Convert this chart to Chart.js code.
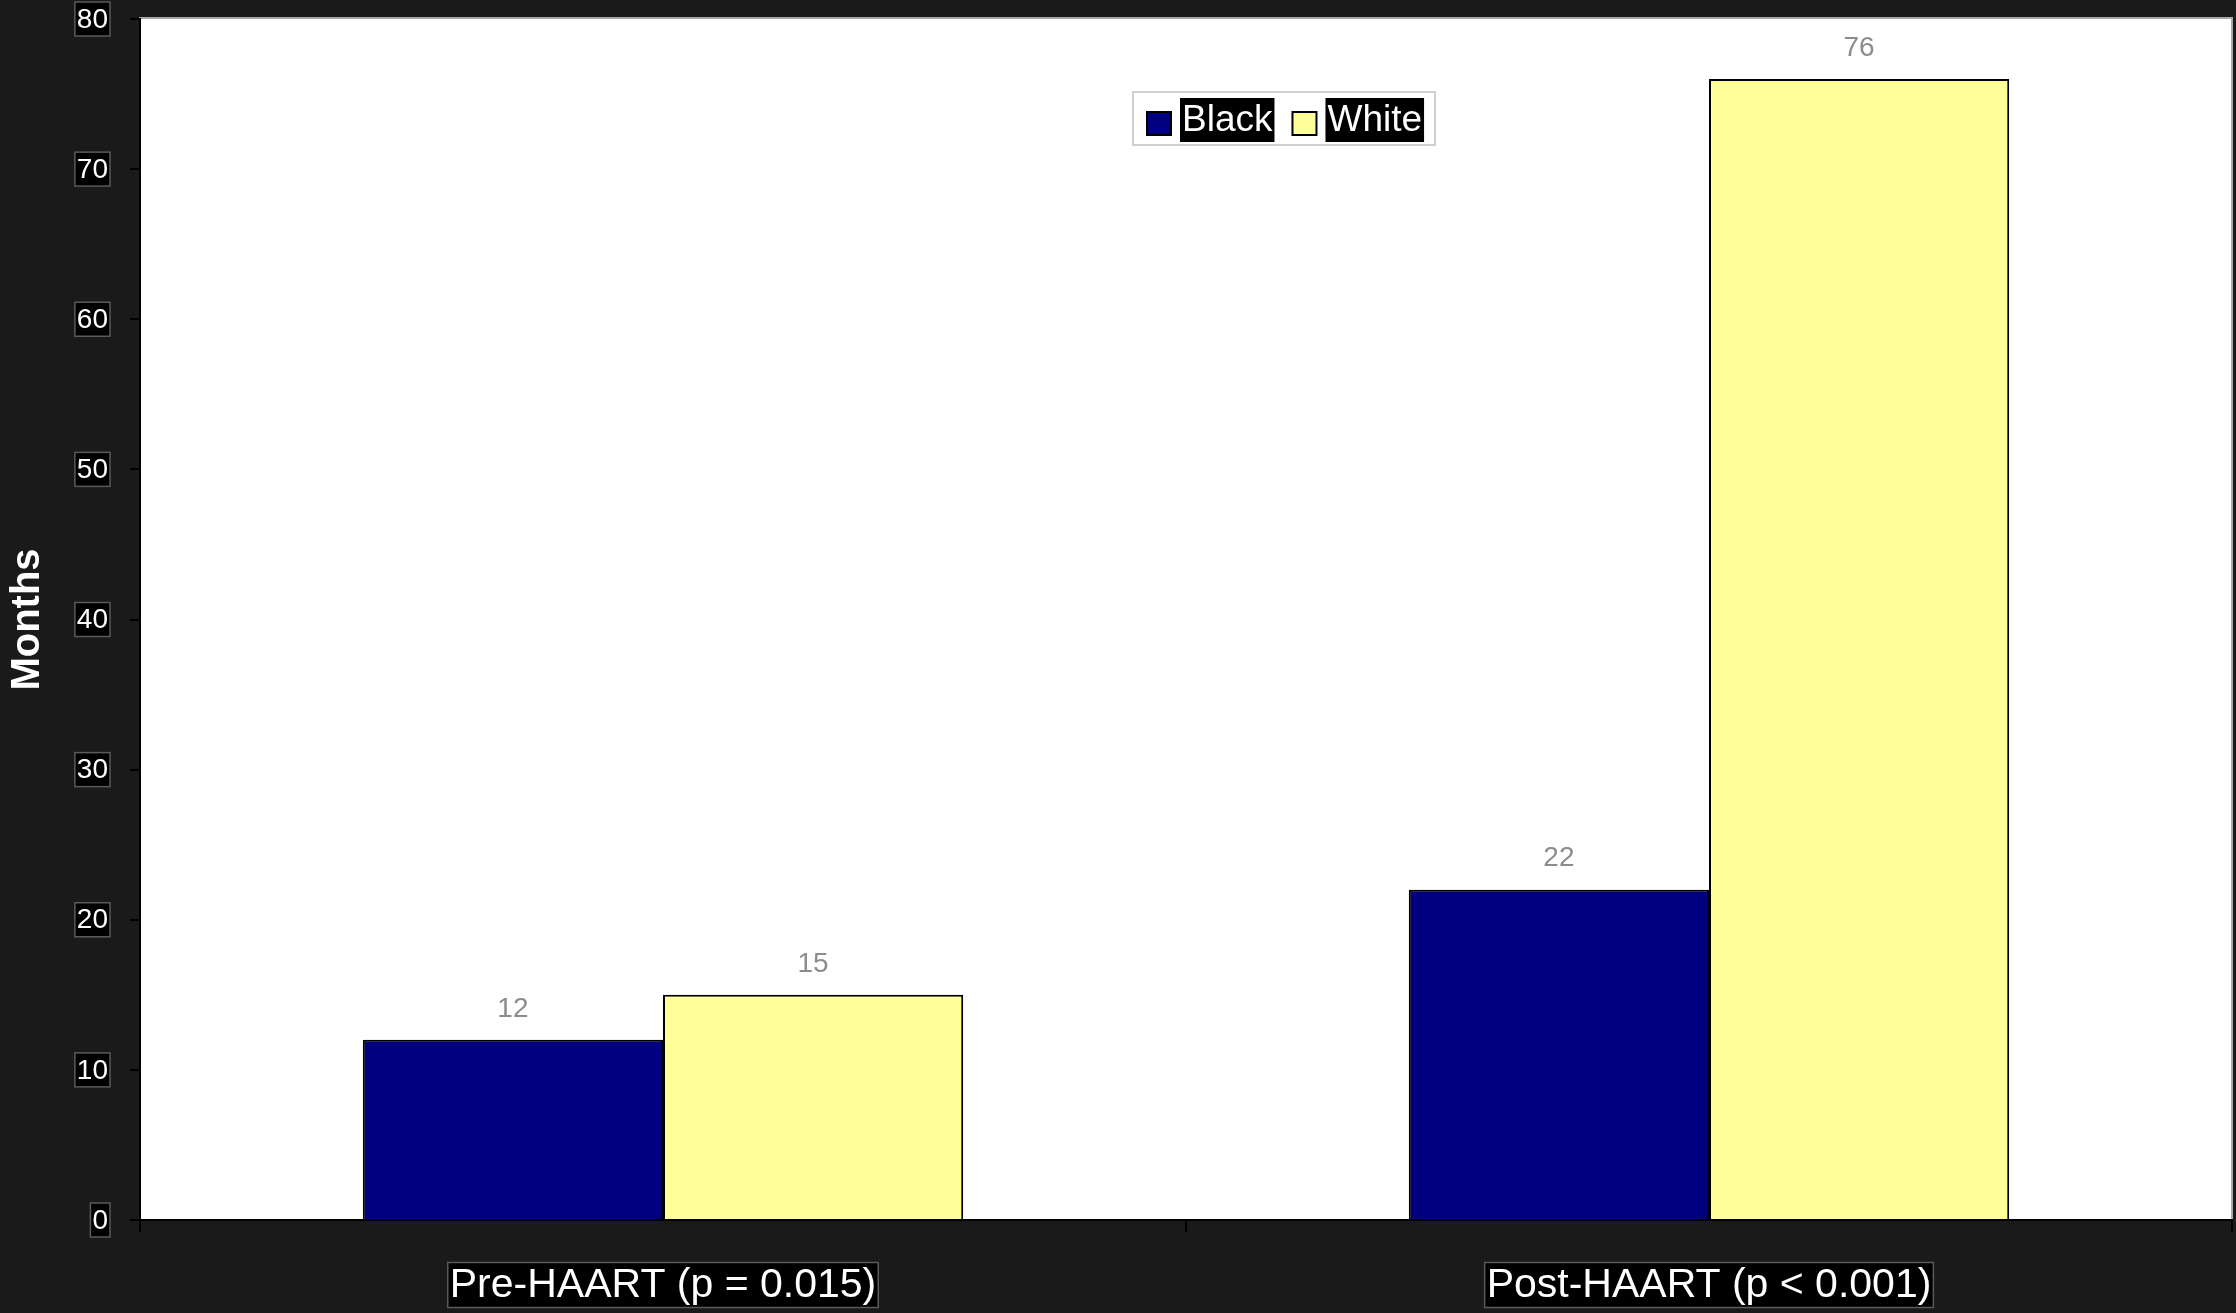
<!DOCTYPE html>
<html>
<head>
<meta charset="utf-8">
<script src="https://cdn.jsdelivr.net/npm/chart.js@4.4.1/dist/chart.umd.min.js"></script>
<style>
  html, body { margin: 0; padding: 0; background: #1a1a1a; overflow: hidden; }
  #wrap { width: 2236px; height: 1313px; }
</style>
</head>
<body>
<div id="wrap"><canvas id="chart" width="2236" height="1313"></canvas></div>
<script>
// Chart data
const categories = ['Pre-HAART (p = 0.015)', 'Post-HAART (p < 0.001)'];
const seriesNames = ['Black', 'White'];
const blackValues = [12, 22];
const whiteValues = [15, 76];
const yMin = 0;
const yMax = 80;
const yStep = 10;

const FONT = '"Liberation Sans", Arial, sans-serif';

// white plot area with grey frame
const plotBackground = {
    id: 'plotBackground',
    beforeDraw(chart) {
        const { ctx, chartArea: a } = chart;
        ctx.save();
        ctx.fillStyle = '#ffffff';
        ctx.fillRect(a.left, a.top, a.right - a.left, a.bottom - a.top);
        ctx.strokeStyle = '#a8a8a8';
        ctx.lineWidth = 2;
        ctx.strokeRect(a.left, a.top - 1, a.right - a.left, a.bottom - a.top + 1);
        ctx.restore();
    }
};

function boxedText(ctx, text, cx, cy, align, padX, boxH) {
    const w = ctx.measureText(text).width;
    let left = align === 'right' ? cx - w - padX : cx - w / 2 - padX;
    ctx.fillStyle = '#000';
    ctx.fillRect(left, cy - boxH / 2, w + padX * 2, boxH);
    ctx.strokeStyle = '#5a5a5a';
    ctx.lineWidth = 1.5;
    ctx.strokeRect(left, cy - boxH / 2, w + padX * 2, boxH);
    ctx.fillStyle = '#ffffff';
    ctx.textAlign = 'left';
    ctx.textBaseline = 'middle';
    ctx.fillText(text, left + padX, cy + 1);
    return left + w + padX * 2;
}

// axis labels drawn in black boxes, like the original
const boxedLabels = {
    id: 'boxedLabels',
    afterDraw(chart) {
        const { ctx } = chart;
        const y = chart.scales.y;
        const x = chart.scales.x;
        ctx.save();
        ctx.font = '28px ' + FONT;
        y.ticks.forEach((t, i) => {
            const py = y.getPixelForTick(i);
            boxedText(ctx, String(t.value), 108, py, 'right', 2, 34);
        });
        ctx.font = '41px ' + FONT;
        x.ticks.forEach((t, i) => {
            const px = x.getPixelForTick(i);
            boxedText(ctx, categories[i], px, 1285, 'center', 2, 45);
        });

        // legend
        const lx = 1133, ly = 92, lw = 302, lh = 53;
        ctx.fillStyle = '#ffffff';
        ctx.fillRect(lx, ly, lw, lh);
        ctx.strokeStyle = '#cfcfcf';
        ctx.lineWidth = 2;
        ctx.strokeRect(lx, ly, lw, lh);
        ctx.font = '37px ' + FONT;
        let cursor = 1147;
        chart.data.datasets.forEach(ds => {
            ctx.fillStyle = ds.backgroundColor;
            ctx.fillRect(cursor, 112, 24, 23);
            ctx.strokeStyle = '#000';
            ctx.lineWidth = 2;
            ctx.strokeRect(cursor, 112, 24, 23);
            const w = ctx.measureText(ds.label).width;
            const bx = cursor + 33;
            ctx.fillStyle = '#000';
            ctx.fillRect(bx, 98, w + 4, 44);
            ctx.fillStyle = '#fff';
            ctx.textAlign = 'left';
            ctx.textBaseline = 'middle';
            ctx.fillText(ds.label, bx + 2, 121);
            cursor = bx + w + 22;
        });
        ctx.restore();
    },
    afterDatasetsDraw(chart) {
        const { ctx } = chart;
        ctx.save();
        ctx.font = '28px ' + FONT;
        ctx.fillStyle = '#8c8c8c';
        ctx.textAlign = 'center';
        ctx.textBaseline = 'middle';
        chart.data.datasets.forEach((ds, di) => {
            chart.getDatasetMeta(di).data.forEach((bar, i) => {
                ctx.fillText(String(ds.data[i]), bar.x, bar.y - 31);
            });
        });
        ctx.restore();
    }
};

new Chart(document.getElementById('chart'), {
    type: 'bar',
    data: {
        labels: categories,
        datasets: [
            {
                label: seriesNames[0],
                data: blackValues,
                backgroundColor: '#000080',
                borderColor: '#000000',
                borderWidth: 2,
                barPercentage: 1,
                categoryPercentage: 0.574
            },
            {
                label: seriesNames[1],
                data: whiteValues,
                backgroundColor: '#ffff99',
                borderColor: '#000000',
                borderWidth: 2,
                barPercentage: 1,
                categoryPercentage: 0.574
            }
        ]
    },
    options: {
        responsive: false,
        animation: false,
        devicePixelRatio: 1,
        layout: { padding: { top: 19, right: 4, left: 0, bottom: 0 } },
        plugins: {
            legend: { display: false },
            tooltip: { enabled: false }
        },
        scales: {
            x: {
                type: 'category',
                offset: true,
                grid: { display: true, drawOnChartArea: false, offset: true, color: '#000', tickLength: 12, lineWidth: 2 },
                border: { display: true, color: '#000', width: 2 },
                ticks: { display: false },
                afterFit(scale) { scale.height = 93; }
            },
            y: {
                min: yMin,
                max: yMax,
                ticks: { display: false, stepSize: yStep },
                grid: { display: true, drawOnChartArea: false, color: '#000', tickLength: 10, lineWidth: 2 },
                border: { display: true, color: '#000', width: 2 },
                title: {
                    display: true,
                    text: 'Months',
                    color: '#ffffff',
                    font: { family: FONT, size: 40, weight: 'bold' },
                    padding: { top: 4, bottom: 0 }
                },
                afterFit(scale) { scale.width = 140; }
            }
        }
    },
    plugins: [plotBackground, boxedLabels]
});
</script>
</body>
</html>
